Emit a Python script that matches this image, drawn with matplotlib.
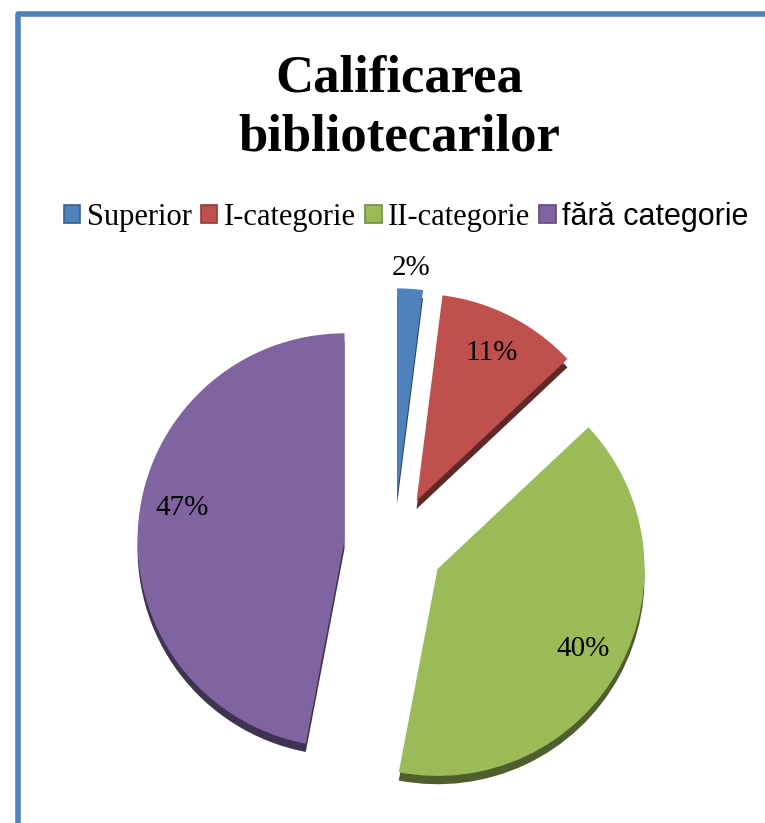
import numpy as np
import matplotlib.pyplot as plt
from matplotlib.lines import Line2D
from matplotlib.colors import to_rgb

categories = ["Superior", "I-categorie", "II-categorie", "fără categorie"]
shares = [2, 11, 40, 47]
colors = ["#4F81BD", "#C0504D", "#9BBB59", "#8064A2"]

W, H = 765, 823
fig = plt.figure(figsize=(W / 100, H / 100), dpi=100)

# chart frame (only the left and top edges are visible)
fig.add_artist(Line2D([18 / W, 18 / W, 1.01], [-0.01, 1 - 14 / H, 1 - 14 / H],
                      color="#4F81BD", lw=4, solid_joinstyle="round"))

# pie: centre at (394, 545) px, radius 207 px
cx, cy, R = 394, 545, 207
left, right, top = 94, 694, 245
ax = fig.add_axes([left / W, 0, (right - left) / W, (H - top) / H])

explode = [0.24] * len(shares)
dark = [tuple(c * 0.5 for c in to_rgb(col)) for col in colors]
# side of the 3D pie
ax.pie(shares, colors=dark, startangle=90, counterclock=False, explode=explode,
       center=(0, -0.04), wedgeprops=dict(linewidth=0))
wedges, _ = ax.pie(shares, colors=colors, startangle=90, counterclock=False,
                   explode=explode, wedgeprops=dict(linewidth=0))

for w, v in zip(wedges, shares):
    mid = np.deg2rad((w.theta1 + w.theta2) / 2)
    d = 1.1 if v < 5 else 0.8
    if v > 45:
        mid -= np.deg2rad(6)  # excel puts this one a little higher
    ax.text(w.center[0] + d * np.cos(mid), w.center[1] + d * np.sin(mid), f"{v}%",
            ha="center", va="center", fontsize=21, family="Liberation Serif")

ax.set_xlim((left - cx) / R, (right - cx) / R)
ax.set_ylim(-(H - cy) / R, (cy - top) / R)
ax.set_aspect("auto")

fig.text(399 / W, 1 - 108 / H, "Calificarea\nbibliotecarilor", ha="center", va="center",
         fontsize=38, fontweight="bold", family="Liberation Serif", linespacing=1.3)

handles = [plt.Rectangle((0, 0), 1, 1, facecolor=c, edgecolor=tuple(x * 0.75 for x in to_rgb(c)),
                         lw=1.2) for c in colors]
leg = fig.legend(handles, categories, loc="center", bbox_to_anchor=(406 / W, 1 - 217 / H),
                 ncol=4, frameon=False, prop=dict(family="Liberation Serif", size=22),
                 handlelength=0.55, handleheight=0.55, handletextpad=0.2, columnspacing=0.3,
                 borderpad=0)
leg.get_texts()[3].set_family("Liberation Sans")

fig.savefig("out.png", dpi=100)
